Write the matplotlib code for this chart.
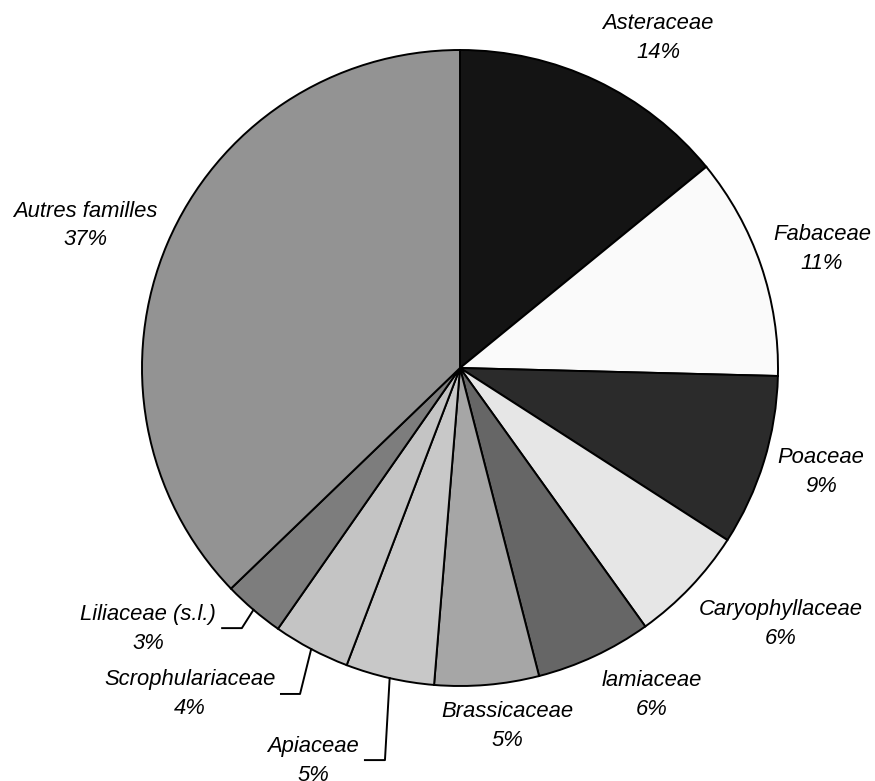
import matplotlib
matplotlib.use("Agg")
import matplotlib.pyplot as plt
import numpy as np

# données (parts par famille, sens horaire depuis le haut)
familles = ["Asteraceae", "Fabaceae", "Poaceae", "Caryophyllaceae", "lamiaceae",
            "Brassicaceae", "Apiaceae", "Scrophulariaceae", "Liliaceae (s.l.)",
            "Autres familles"]
parts = [14.1, 11.3, 8.7, 6.0, 5.9, 5.3, 4.5, 3.9, 3.1, 37.2]
pct_labels = ["14%", "11%", "9%", "6%", "6%", "5%", "5%", "4%", "3%", "37%"]
couleurs = ["#141414", "#fafafa", "#2b2b2b", "#e6e6e6", "#666666",
            "#a6a6a6", "#c8c8c8", "#c4c4c4", "#7d7d7d", "#939393"]

# position des étiquettes (coordonnées du graphique, rayon = 1)
label_pos = [(0.623, 1.038), (1.138, 0.374), (1.135, -0.327), (1.009, -0.805),
             (0.604, -1.028), (0.148, -1.126), (-0.462, -1.236),
             (-0.849, -1.025), (-0.981, -0.821), (-1.179, 0.447)]
# lignes de rappel : (x début, x coude, y)
leaders = {6: (-0.299, -0.236, -1.233),
           7: (-0.563, -0.503, -1.025),
           8: (-0.748, -0.686, -0.818)}

plt.rcParams['font.family'] = ['Liberation Sans', 'DejaVu Sans']

fig = plt.figure(figsize=(8.75, 7.81), dpi=100)
ax = fig.add_axes([0, 0, 1, 1])

wedges, _ = ax.pie(parts, colors=couleurs, startangle=90, counterclock=False,
                   wedgeprops=dict(edgecolor='black', linewidth=1.4))

for i, w in enumerate(wedges):
    x, y = label_pos[i]
    ax.text(x, y, familles[i] + "\n" + pct_labels[i], ha='center', va='center',
            fontsize=15.8, style='italic', linespacing=1.45)
    if i in leaders:
        x0, x1, yl = leaders[i]
        mid = np.deg2rad((w.theta1 + w.theta2) / 2)
        ax.plot([x0, x1, np.cos(mid)], [yl, yl, np.sin(mid)], color='black', lw=1.4)

ax.set_xlim(-460 / 318, (875 - 460) / 318)
ax.set_ylim((368 - 781) / 318, 368 / 318)
ax.set_aspect('auto')
ax.axis('off')

plt.savefig("out.png", dpi=100)
